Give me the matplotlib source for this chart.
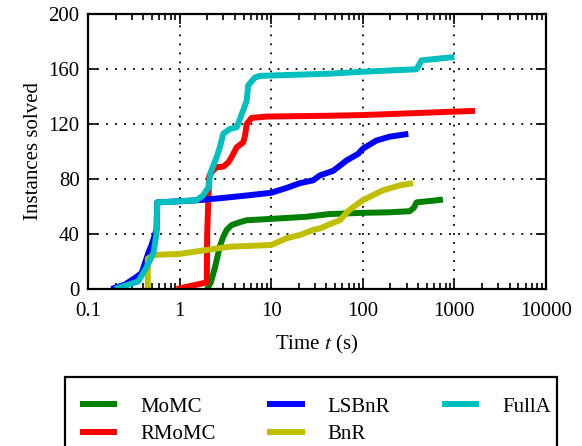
import matplotlib
matplotlib.use("Agg")
import matplotlib.pyplot as plt
from matplotlib.patches import Rectangle
from matplotlib.ticker import FixedLocator, FuncFormatter, LogLocator, NullFormatter

# === Data (time in s, instances solved) ===
momc_t = [2.0, 2.2, 2.44, 2.75, 3.0, 3.27, 3.7, 4.5, 5.4, 10, 24, 43, 100, 200, 325, 360, 387, 750]
momc_v = [0, 5, 16, 31, 38, 43, 46.5, 48.5, 50, 51, 52.5, 54.5, 55.4, 55.8, 56.6, 59, 63, 65]

rmomc_t = [0.93, 1.98, 2.0, 2.1, 2.3, 2.54, 3.0, 3.4, 3.7, 4.2, 4.95, 5.2, 5.4, 6.1, 8.9, 43, 100, 1000, 1680]
rmomc_v = [0, 4.8, 40, 82, 86, 88.6, 89, 92, 96, 103, 106.7, 112, 120, 124.4, 125.4, 126, 126.5, 129, 129.6]

lsbnr_t = [0.18, 0.25, 0.326, 0.385, 0.455, 0.494, 0.56, 0.57, 1.0, 1.53, 2.75, 5.4, 10, 14.7, 20.6,
           28.6, 34, 47.6, 66.6, 89, 100, 141, 197, 314]
lsbnr_v = [0, 3, 8, 11.6, 26, 32, 43, 63, 63.8, 64.5, 66, 68, 70, 73.5, 77,
           79, 82.6, 86, 93.5, 98.3, 102, 108, 110.8, 112.8]

bnr_t = [0.449, 0.45, 0.517, 1.0, 1.98, 3.55, 10, 14.7, 20.6, 28.9, 34, 43, 56, 71, 100, 166, 256, 353]
bnr_v = [0, 22, 24.8, 25.5, 28.4, 30.8, 32, 36.9, 39.3, 43, 44, 47, 50, 57.3, 64.6, 71.8, 75.4, 77]

fulla_t = [0.197, 0.354, 0.437, 0.517, 0.56, 0.57, 1.0, 1.53, 1.8, 2.07, 2.16, 2.54, 2.75, 3.0, 3.55,
           4.2, 4.95, 5.4, 5.6, 6.6, 7.5, 43, 100, 387, 438, 1000]
fulla_v = [0, 5.5, 16, 26, 40, 63, 63.8, 64.5, 68, 74, 84, 96, 103, 113, 116.4,
           117.6, 130, 137, 148, 153.7, 155, 156.6, 158, 159.8, 166.3, 168.7]

series = [
    ("MoMC", momc_t, momc_v, (0, 0.5, 0)),
    ("RMoMC", rmomc_t, rmomc_v, (1, 0, 0)),
    ("LSBnR", lsbnr_t, lsbnr_v, (0, 0, 1)),
    ("BnR", bnr_t, bnr_v, (0.75, 0.75, 0)),
    ("FullA", fulla_t, fulla_v, (0, 0.75, 0.75)),
]

x_ticks = [0.1, 1, 10, 100, 1000, 10000]
y_ticks = [0, 40, 80, 120, 160, 200]

plt.rcParams['font.family'] = ['Liberation Serif', 'DejaVu Serif']
plt.rcParams['mathtext.fontset'] = 'stix'
plt.rcParams['font.size'] = 15

W, H = 582, 446
fig = plt.figure(figsize=(W / 100, H / 100), dpi=100)
ax = fig.add_axes([88 / W, 1 - 289 / H, (546 - 88) / W, (289 - 14) / H])

for name, t, v, color in series:
    ax.plot(t, v, color=color, lw=4.3, label=name, solid_capstyle='butt')

ax.set_xscale('log')
ax.set_xlim(0.1, 10000)
ax.set_ylim(0, 200)
ax.xaxis.set_major_locator(FixedLocator(x_ticks))
ax.xaxis.set_major_formatter(FuncFormatter(lambda x, p: '%g' % x))
ax.xaxis.set_minor_locator(LogLocator(base=10, subs=range(2, 10)))
ax.xaxis.set_minor_formatter(NullFormatter())
ax.yaxis.set_major_locator(FixedLocator(y_ticks))

ax.grid(True, which='major', color='black', linestyle=(0, (1, 4)), lw=1.3)
ax.tick_params(which='both', direction='in', top=True, right=True, width=1.2)
ax.tick_params(which='major', length=7, pad=6)
ax.tick_params(axis='x', which='major', pad=9)
ax.tick_params(which='minor', length=4)
for sp in ax.spines.values():
    sp.set_linewidth(1.6)

ax.set_xlabel('Time $t$ (s)', labelpad=9)
ax.set_ylabel('Instances solved')

# legend entries without frame, box drawn separately (runs off the bottom)
fig.legend(loc='upper left', bbox_to_anchor=(80 / W, 1 - 397 / H), ncol=3, frameon=False,
           handlelength=1.78, handletextpad=1.1, columnspacing=2.5, borderaxespad=0,
           borderpad=0, labelspacing=0.38, fontsize=15)
fig.patches.append(Rectangle((65 / W, -0.1), (557 - 65) / W, 0.1 + 1 - 377 / H,
                             transform=fig.transFigure, fill=False, lw=1.6, ec='black'))

plt.savefig("out.png", dpi=100)
